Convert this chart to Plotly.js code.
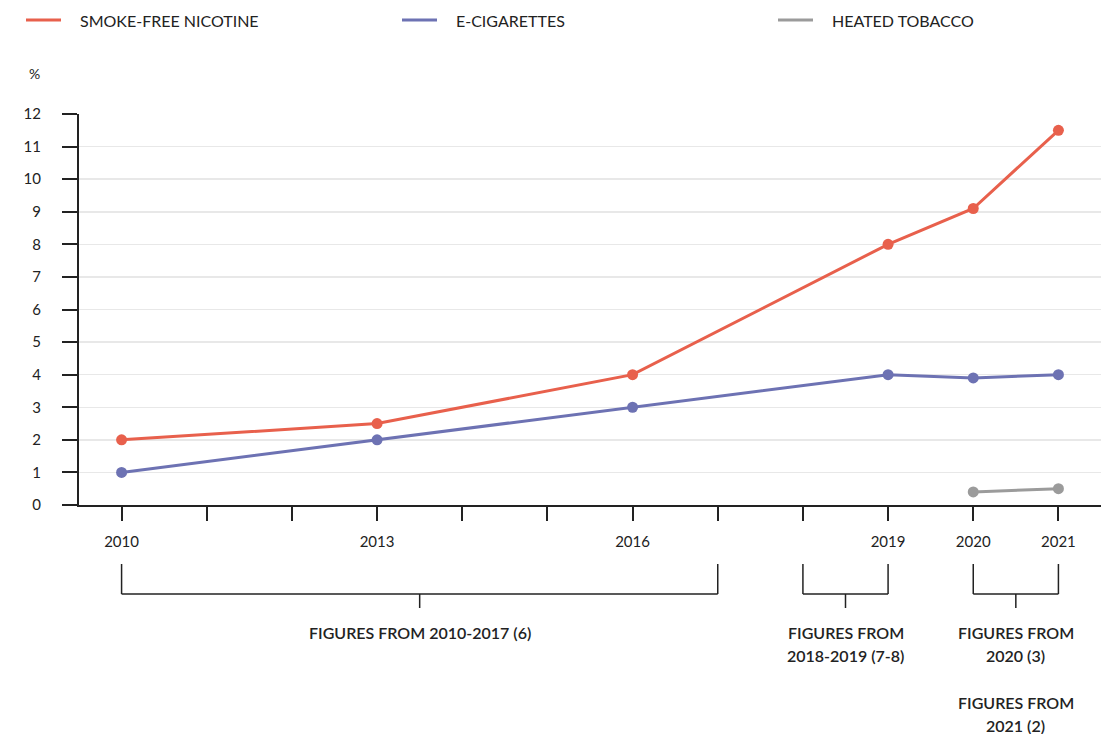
<!DOCTYPE html>
<html>
<head>
<meta charset="utf-8">
<script src="https://cdn.plot.ly/plotly-3.0.1.min.js"></script>
<style>
  html, body { margin: 0; padding: 0; background: #ffffff; }
  #chart { width: 1112px; height: 734px; }
</style>
</head>
<body>
<div id="chart"></div>
<script>
// Share of adults using each product (%)
const years = [2010, 2013, 2016, 2019, 2020, 2021];
const smokeFree = [2, 2.5, 4, 8, 9.1, 11.5];
const eCigarettes = [1, 2, 3, 4, 3.9, 4];
const heatedYears = [2020, 2021];
const heatedTobacco = [0.4, 0.5];

const seriesNames = ['SMOKE-FREE NICOTINE', 'E-CIGARETTES', 'HEATED TOBACCO'];
const seriesColors = ['#e8604c', '#6d72b3', '#9b9b9b'];

// Axis ticks: a tick every year, labels on survey years only
const tickYears = [2010, 2011, 2012, 2013, 2014, 2015, 2016, 2017, 2018, 2019, 2020, 2021];
const labelledYears = [2010, 2013, 2016, 2019, 2020, 2021];
const yTicks = [0, 1, 2, 3, 4, 5, 6, 7, 8, 9, 10, 11, 12];

// Source brackets under the axis
const groupStart = [2010, 2018, 2020];
const groupEnd = [2017, 2019, 2021];
const groupLabels = [
  ['FIGURES FROM 2010-2017 (6)'],
  ['FIGURES FROM', '2018-2019 (7-8)'],
  ['FIGURES FROM', '2020 (3)', '', 'FIGURES FROM', '2021 (2)']
];

const FONT = 'Lato, "Noto Sans", sans-serif';
const INK = '#222222';

// layout geometry (pixels)
const W = 1112, H = 734;
const M = { l: 79, r: 11, t: 114, b: 229 };
const plotW = W - M.l - M.r, plotH = H - M.t - M.b;
const px = x => (x - M.l) / plotW;          // pixel x -> paper
const py = y => (H - M.b - y) / plotH;      // pixel y -> paper

const dataSets = [
  { x: years, y: smokeFree },
  { x: years, y: eCigarettes },
  { x: heatedYears, y: heatedTobacco }
];

const traces = dataSets.map((d, i) => ({
  type: 'scatter',
  mode: 'lines+markers',
  x: d.x,
  y: d.y,
  name: seriesNames[i],
  line: { color: seriesColors[i], width: 3 },
  marker: { color: seriesColors[i], size: 11 },
  showlegend: false,
  hoverinfo: 'x+y+name'
}));
// draw the heated tobacco line first so the others sit on top
traces.reverse();

const shapes = [];
const annotations = [];

// legend row
const legendX = [26, 402, 778];
seriesNames.forEach((n, i) => {
  shapes.push({
    type: 'line', xref: 'paper', yref: 'paper',
    x0: px(legendX[i]), x1: px(legendX[i] + 35), y0: py(20), y1: py(20),
    line: { color: seriesColors[i], width: 3 }
  });
  annotations.push({
    xref: 'paper', yref: 'paper', x: px(legendX[i] + 52), y: py(20),
    xanchor: 'left', yanchor: 'middle', showarrow: false,
    text: n, font: { family: FONT, size: 16, color: INK }
  });
});

// unit label
annotations.push({
  xref: 'paper', yref: 'paper', x: px(27), y: py(73),
  xanchor: 'left', yanchor: 'middle', showarrow: false,
  text: '%', font: { family: FONT, size: 14, color: INK }
});

// brackets and their captions
groupStart.forEach((s, i) => {
  const e = groupEnd[i];
  const mid = (s + e) / 2;
  const bl = { color: INK, width: 1.5 };
  shapes.push(
    { type: 'line', xref: 'x', yref: 'paper', x0: s, x1: s, y0: py(564), y1: py(594), line: bl },
    { type: 'line', xref: 'x', yref: 'paper', x0: e, x1: e, y0: py(564), y1: py(594), line: bl },
    { type: 'line', xref: 'x', yref: 'paper', x0: s, x1: e, y0: py(594), y1: py(594), line: bl },
    { type: 'line', xref: 'x', yref: 'paper', x0: mid, x1: mid, y0: py(594), y1: py(608), line: bl }
  );
  groupLabels[i].forEach((t, j) => {
    if (!t) return;
    annotations.push({
      xref: 'x', yref: 'paper', x: mid, y: py(632 + j * 23.5),
      xanchor: 'center', yanchor: 'middle', showarrow: false,
      text: t, font: { family: FONT, size: 16, color: INK, weight: 600 }
    });
  });
});

const layout = {
  width: W, height: H,
  margin: M,
  paper_bgcolor: '#ffffff',
  plot_bgcolor: '#ffffff',
  showlegend: false,
  font: { family: FONT, size: 15, color: INK },
  xaxis: {
    range: [2009.5, 2021.5],
    tickvals: tickYears,
    ticktext: tickYears.map(y => labelledYears.includes(y) ? String(y) : ''),
    ticks: 'outside', ticklen: 14, tickwidth: 2, tickcolor: INK,
    ticklabelstandoff: 8,
    showline: true, linecolor: INK, linewidth: 2,
    showgrid: false, zeroline: false,
    tickfont: { family: FONT, size: 15, color: INK }
  },
  yaxis: {
    range: [0, 12],
    tickvals: yTicks,
    ticks: 'outside', ticklen: 15, tickwidth: 2, tickcolor: INK,
    ticklabelstandoff: 18,
    showline: true, linecolor: INK, linewidth: 2,
    showgrid: true, gridcolor: '#e8e8e8', gridwidth: 1.5,
    zeroline: false,
    tickfont: { family: FONT, size: 15, color: INK }
  },
  shapes: shapes,
  annotations: annotations
};

Plotly.newPlot('chart', traces, layout, { displayModeBar: false, staticPlot: true });
</script>
</body>
</html>
